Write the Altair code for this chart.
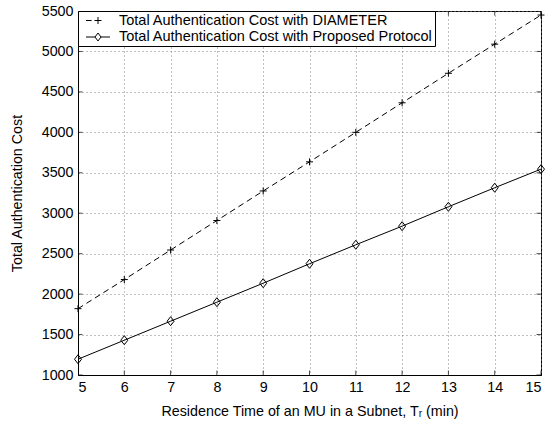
import altair as alt
import pandas as pd

FONT = "Liberation Sans"

residence_time = [5, 6, 7, 8, 9, 10, 11, 12, 13, 14, 15]
cost_diameter = [1820, 2180, 2545, 2910, 3275, 3635, 4000, 4365, 4730, 5090, 5450]
cost_proposed = [1195, 1430, 1665, 1900, 2135, 2375, 2610, 2840, 3080, 3315, 3545]
series_names = [
    "Total Authentication Cost with DIAMETER",
    "Total Authentication Cost with Proposed Protocol",
]
x_ticks = [5, 6, 7, 8, 9, 10, 11, 12, 13, 14, 15]
y_ticks = [1000, 1500, 2000, 2500, 3000, 3500, 4000, 4500, 5000, 5500]

df = pd.DataFrame({
    "t": residence_time + residence_time,
    "cost": cost_diameter + cost_proposed,
    "series": [series_names[0]] * len(residence_time) + [series_names[1]] * len(residence_time),
})
df_xt = pd.DataFrame({"xt": x_ticks})
df_yt = pd.DataFrame({"yt": y_ticks})

PLUS = "M-1,0L1,0M0,-1L0,1"
DIAMOND = "M-0.78,0L0,-1L0.78,0L0,1Z"
# legend glyphs (line segment + marker), drawn relative to the legend symbol slot
LEG_D = "M-0.21,0L0.59,0M1,0L2,0M1.5,-0.5L1.5,0.5"
LEG_P = "M-0.21,0L1.07,0M1.93,0L3.21,0M1.07,0L1.5,-0.57L1.93,0L1.5,0.57Z"

xs = alt.Scale(domain=[5, 15], nice=False, zero=False)
ys = alt.Scale(domain=[1000, 5500], nice=False, zero=False)

x_axis = alt.Axis(values=x_ticks, format="d", title="Residence Time of an MU in a Subnet, Tᵣ (min)",
                  ticks=False, labelPadding=5, titlePadding=10, grid=True)
y_axis = alt.Axis(values=y_ticks, format="d", title="Total Authentication Cost",
                  ticks=False, labelPadding=5, titlePadding=17, grid=True)

base = alt.Chart(df)

line_d = base.transform_filter(alt.datum.series == series_names[0]).mark_line(
    color="black", strokeWidth=1, strokeDash=[6, 4]
).encode(x=alt.X("t:Q", scale=xs, axis=x_axis), y=alt.Y("cost:Q", scale=ys, axis=y_axis))

line_p = base.transform_filter(alt.datum.series == series_names[1]).mark_line(
    color="black", strokeWidth=1
).encode(x=alt.X("t:Q", scale=xs), y=alt.Y("cost:Q", scale=ys))

pts_d = base.transform_filter(alt.datum.series == series_names[0]).mark_point(
    shape=PLUS, size=49, filled=False, color="black", strokeWidth=1, opacity=1
).encode(x=alt.X("t:Q", scale=xs), y=alt.Y("cost:Q", scale=ys))

pts_p = base.transform_filter(alt.datum.series == series_names[1]).mark_point(
    shape=DIAMOND, size=81, filled=False, color="black", strokeWidth=1, opacity=1
).encode(x=alt.X("t:Q", scale=xs), y=alt.Y("cost:Q", scale=ys))

legend_layer = base.mark_point(filled=False, color="black", strokeWidth=1, opacity=1, clip=True).encode(
    x=alt.datum(5, scale=xs),
    y=alt.datum(0, scale=ys),
    shape=alt.Shape(
        "series:N",
        scale=alt.Scale(domain=series_names, range=[LEG_D, LEG_P]),
        legend=alt.Legend(
            title=None, orient="top-left", offset=0, padding=2,
            strokeColor="black", fillColor="white",
            labelFont=FONT, labelFontSize=14.5, labelColor="black", labelOffset=24,
            labelLimit=500, labelExpr="datum.label + '\u2002'",
            symbolSize=196, symbolStrokeWidth=1,
            symbolStrokeColor="black", symbolFillColor="transparent",
            rowPadding=1.5,
        ),
    ),
)

tick_bottom = alt.Chart(df_xt).mark_tick(orient="vertical", color="black", size=9, thickness=1, clip=True).encode(
    x=alt.X("xt:Q", scale=xs), y=alt.datum(1000, scale=ys))
tick_top = alt.Chart(df_xt).mark_tick(orient="vertical", color="black", size=9, thickness=1, clip=True).encode(
    x=alt.X("xt:Q", scale=xs), y=alt.datum(5500, scale=ys))
tick_left = alt.Chart(df_yt).mark_tick(orient="horizontal", color="black", size=9, thickness=1, clip=True).encode(
    y=alt.Y("yt:Q", scale=ys), x=alt.datum(5, scale=xs))
tick_right = alt.Chart(df_yt).mark_tick(orient="horizontal", color="black", size=9, thickness=1, clip=True).encode(
    y=alt.Y("yt:Q", scale=ys), x=alt.datum(15, scale=xs))

chart = alt.layer(
    line_d, line_p, pts_d, pts_p, legend_layer, tick_bottom, tick_top, tick_left, tick_right
).properties(
    width=463, height=364,
    autosize=alt.AutoSizeParams(type="none"),
    padding={"left": 78, "top": 11, "right": 7, "bottom": 50},
    background="white",
).configure_view(
    stroke="black", strokeWidth=1
).configure_axis(
    labelFont=FONT, labelFontSize=14.3, labelColor="black",
    titleFont=FONT, titleFontSize=14.3, titleColor="black", titleFontWeight="normal",
    domainColor="black", domainWidth=1,
    gridColor="#808080", gridDash=[1, 3], gridWidth=1, gridOpacity=1,
)

chart.save("out.html", embed_options={"renderer": "svg", "actions": False})
